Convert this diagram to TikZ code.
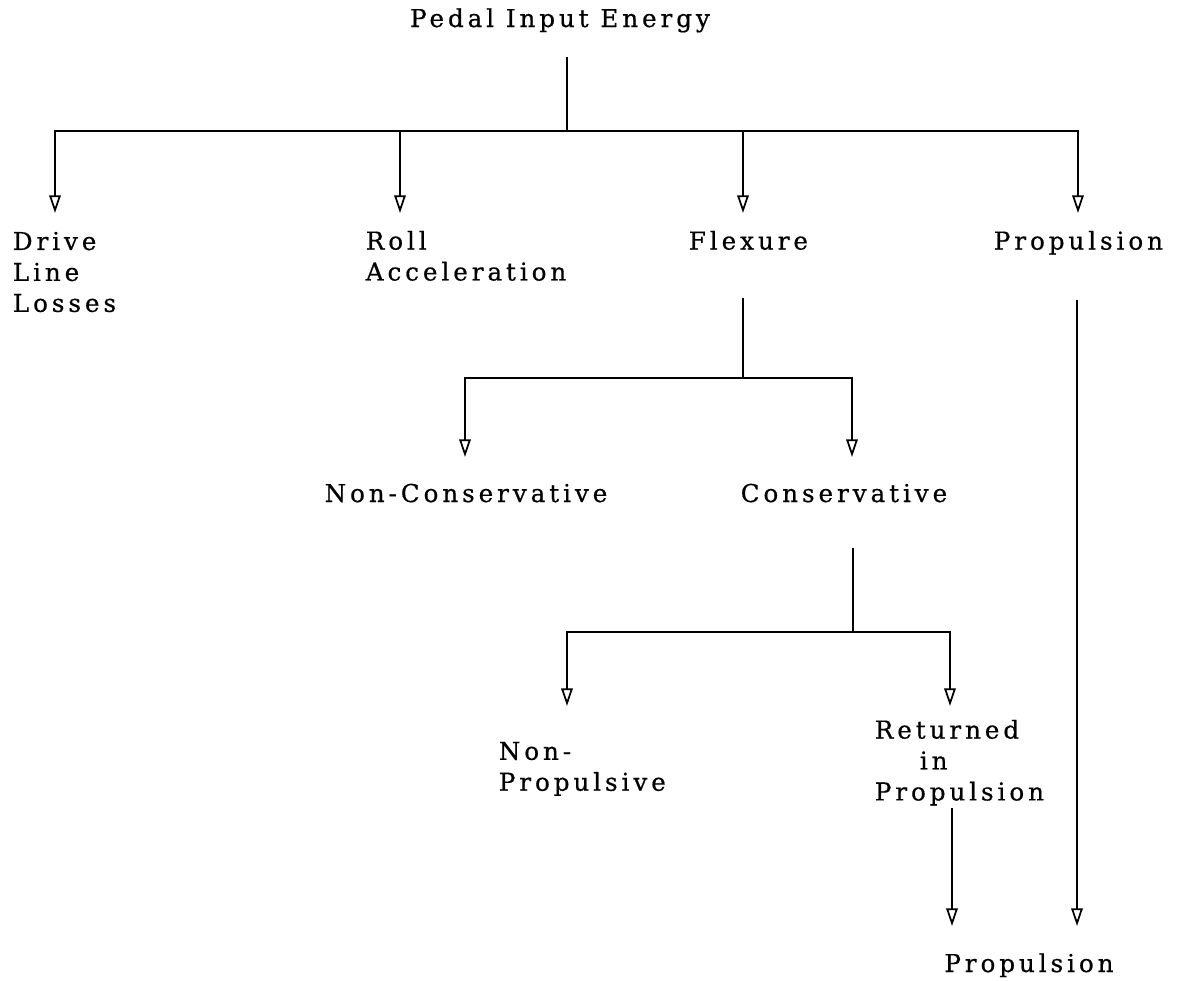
\documentclass[tikz,border=0pt]{standalone}
\usepackage{fontspec}
\usepackage{tikz}
\usetikzlibrary{arrows.meta}

\newfontfamily\typedfont{DejaVu Serif}[LetterSpace=16,FakeBold=0.6]
\newcommand\typed{\typedfont\fontsize{14}{17.6}\selectfont}

\begin{document}
\begin{tikzpicture}[x=0.02cm,y=-0.02cm,->,>={Triangle[open,length=10pt,width=6.5pt]},
  line width=1pt, label node/.style={font=\typed,inner sep=0pt,align=left}]

    \useasboundingbox (0,0) rectangle (1178,981);

    % labels
    \node[label node,anchor=base] (pedal) at (560,27) {Pedal Input Energy};
    \node[label node,anchor=north west] (drive) at (12,231) {Drive\\Line\\Losses};
    \node[label node,anchor=north west] (roll) at (365,230) {Roll\\Acceleration};
    \node[label node,anchor=north west] (flex) at (688,230) {Flexure};
    \node[label node,anchor=north west] (prop) at (993,230) {Propulsion};
    \node[label node,anchor=base] (noncons) at (466,502) {Non-Conservative};
    \node[label node,anchor=base] (cons) at (844,502) {Conservative};
    \node[label node,anchor=north west] (nonprop) at (498,741) {Non-\\Propulsive};
    \node[label node,anchor=north west] (ret) at (874,719) {Returned\\\hspace*{0.9cm}in\\Propulsion};
    \node[label node,anchor=base] (propend) at (1029,972) {Propulsion};

    % stems and junctions
    \coordinate (pedal stem) at (567,57);
    \coordinate (pedal bus) at (567,131);
    \coordinate (flex stem) at (743,298);
    \coordinate (flex bus) at (743,378);
    \coordinate (cons stem) at (853,548);
    \coordinate (cons bus) at (853,632);
    \coordinate (ret stem) at (952,808);
    \coordinate (prop stem) at (1077,300);

    % arrow tips
    \coordinate (drive tip) at (55,213);
    \coordinate (roll tip) at (400,213);
    \coordinate (flex tip) at (743,213);
    \coordinate (prop tip) at (1078,213);
    \coordinate (noncons tip) at (465,457);
    \coordinate (cons tip) at (852,457);
    \coordinate (nonprop tip) at (567,706);
    \coordinate (ret tip) at (950,706);
    \coordinate (end tip a) at (952,926);
    \coordinate (end tip b) at (1077,926);

    \draw[-] (pedal stem) -- (pedal bus);
    \draw (pedal bus) -| (drive tip);
    \draw (pedal bus) -| (roll tip);
    \draw (pedal bus) -| (flex tip);
    \draw (pedal bus) -| (prop tip);

    \draw[-] (flex stem) -- (flex bus);
    \draw (flex bus) -| (noncons tip);
    \draw (flex bus) -| (cons tip);

    \draw[-] (cons stem) -- (cons bus);
    \draw (cons bus) -| (nonprop tip);
    \draw (cons bus) -| (ret tip);

    \draw (ret stem) -- (end tip a);
    \draw (prop stem) -- (end tip b);
\end{tikzpicture}
\end{document}
